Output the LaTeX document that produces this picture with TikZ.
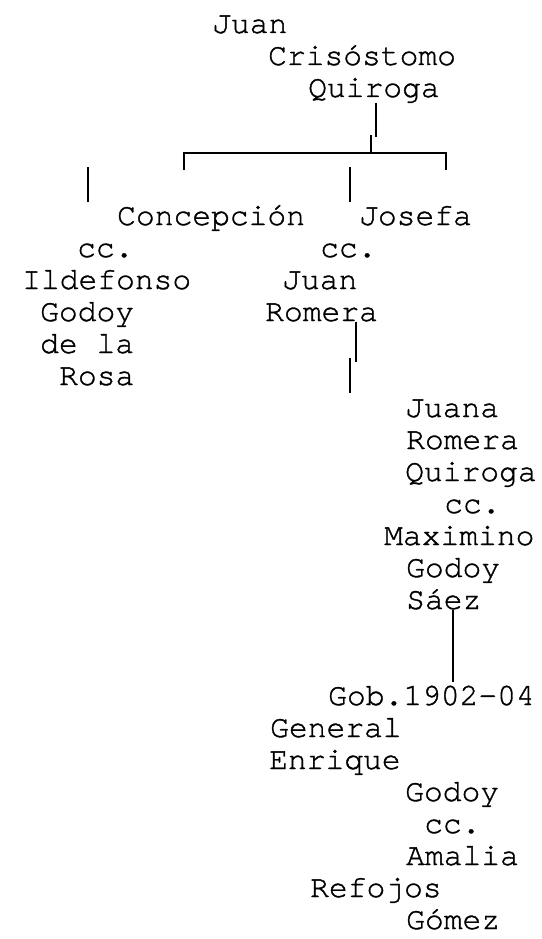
\documentclass[tikz,border=0pt]{standalone}
\usepackage{fontspec}
\setmonofont{TeX Gyre Cursor}[FakeBold=1.2]
\usepackage{tikz}

\begin{document}
\begin{tikzpicture}[x=1pt, y=-1pt,
    font=\ttfamily\fontsize{31.3}{32}\selectfont,
    txt/.style={anchor=base west, inner sep=0pt},
    bar/.style={line width=2pt}]
            \useasboundingbox (0,0) rectangle (541,939);

            % Founder
            \node[txt] (juanA) at (212,33) {Juan};
            \node[txt] (crisA) at (268,65) {Crisóstomo};
            \node[txt] (quirA) at (308,97) {Quiroga};

            % Children
            \node[txt] (conc) at (117,225) {Concepción};
            \node[txt] (josefa) at (359,225) {Josefa};
            \node[txt] (ccA) at (77,257) {cc.};
            \node[txt] (ccB) at (320,257) {cc.};
            \node[txt] (ildef) at (22,289) {Ildefonso};
            \node[txt] (juanB) at (282,289) {Juan};
            \node[txt] (godoyA) at (40,321) {Godoy};
            \node[txt] (romeraA) at (265,321) {Romera};
            \node[txt] (dela) at (40,353) {de la};
            \node[txt] (rosa) at (59,385) {Rosa};

            % Grandchild
            \node[txt] (juana) at (405,417) {Juana};
            \node[txt] (romeraB) at (406,449) {Romera};
            \node[txt] (quirB) at (405,481) {Quiroga};
            \node[txt] (ccC) at (444,513) {cc.};
            \node[txt] (maxi) at (384,545) {Maximino};
            \node[txt] (godoyB) at (406,577) {Godoy};
            \node[txt] (saez) at (406,609) {Sáez};

            % Governor
            \node[txt] (gob) at (328,705) {Gob.1902-04};
            \node[txt] (general) at (270,737) {General};
            \node[txt] (enrique) at (269,769) {Enrique};
            \node[txt] (godoyC) at (405,801) {Godoy};
            \node[txt] (ccD) at (424,833) {cc.};
            \node[txt] (amalia) at (406,865) {Amalia};
            \node[txt] (refojos) at (310,897) {Refojos};
            \node[txt] (gomez) at (406,929) {Gómez};

            % Bracket points
            \coordinate (qDown) at (376,137);
            \coordinate (jTop) at (371,135);
            \coordinate (jMid) at (371,153);
            \coordinate (brL) at (184,153);
            \coordinate (brR) at (446,153);
            \coordinate (brLd) at (184,170);
            \coordinate (brRd) at (446,170);
            \coordinate (lTop) at (88,167);
            \coordinate (lBot) at (88,202);
            \coordinate (mTop) at (350,167);
            \coordinate (mBot) at (350,202);
            \coordinate (rDown) at (356,362);
            \coordinate (sTop) at (350,358);
            \coordinate (sBot) at (350,393);
            \coordinate (gDown) at (453,682);

            % Lines
            \draw[bar] (quirA.south -| qDown) -- (qDown);
            \draw[bar] (jTop) -- (jMid);
            \draw[bar] (brLd) -- (brL) -- (brR) -- (brRd);
            \draw[bar] (lTop) -- (lBot);
            \draw[bar] (mTop) -- (mBot);
            \draw[bar] (romeraA.south -| rDown) -- (rDown);
            \draw[bar] (sTop) -- (sBot);
            \draw[bar] (saez.south -| gDown) -- (gDown);
        \end{tikzpicture}
\end{document}
